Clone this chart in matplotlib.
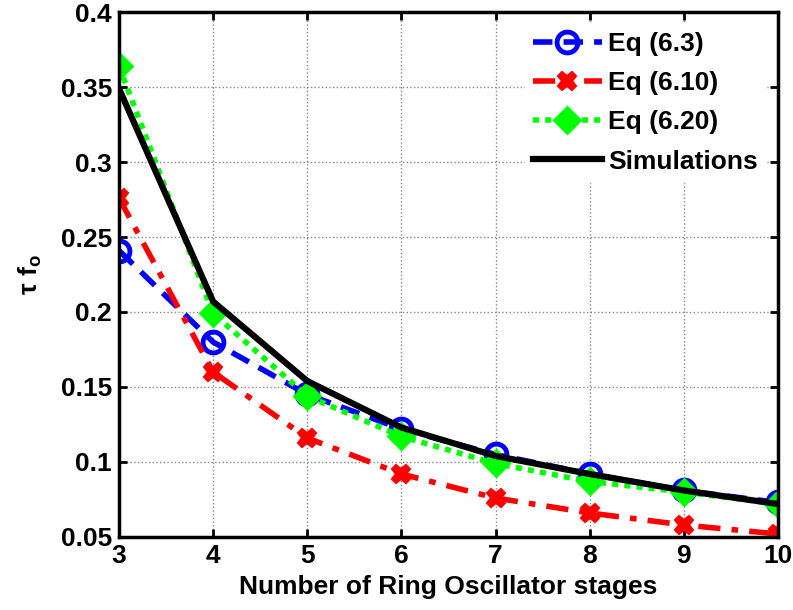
import matplotlib
matplotlib.use("Agg")
import matplotlib.pyplot as plt

plt.rcParams['font.family'] = ['Liberation Sans', 'DejaVu Sans']
plt.rcParams['font.weight'] = 'bold'
plt.rcParams['mathtext.fontset'] = 'custom'
plt.rcParams['mathtext.rm'] = 'Liberation Sans:bold'
plt.rcParams['mathtext.bf'] = 'Liberation Sans:bold'
plt.rcParams['mathtext.default'] = 'rm'

# stage count vs normalised oscillation frequency
stages = [3, 4, 5, 6, 7, 8, 9, 10]
eq_6_3 = [0.241, 0.180, 0.145, 0.122, 0.105, 0.092, 0.081, 0.073]
eq_6_10 = [0.276, 0.160, 0.116, 0.092, 0.076, 0.066, 0.058, 0.052]
eq_6_20 = [0.364, 0.199, 0.144, 0.117, 0.099, 0.087, 0.080, 0.072]
simulations = [0.349, 0.207, 0.154, 0.123, 0.104, 0.092, 0.081, 0.072]

x_ticks = [3, 4, 5, 6, 7, 8, 9, 10]
y_ticks = [0.05, 0.1, 0.15, 0.2, 0.25, 0.3, 0.35, 0.4]
y_tick_labels = ['0.05', '0.1', '0.15', '0.2', '0.25', '0.3', '0.35', '0.4']

FS = 19

fig = plt.figure(figsize=(7.93, 6.10), dpi=100)
ax = fig.add_axes([0.150, 0.1197, 0.831, 0.8606])

ax.plot(stages, eq_6_3, color='blue', linestyle=(0, (3.5, 2.0)), linewidth=4,
        marker='o', markersize=15, markerfacecolor='none', markeredgewidth=3.5,
        label='Eq (6.3)')
ax.plot(stages, eq_6_10, color='red', linestyle=(0, (4.0, 2.0, 1.2, 2.0)), linewidth=4,
        marker='X', markersize=13, markeredgewidth=1.5,
        label='Eq (6.10)')
ax.plot(stages, eq_6_20, color=(0, 1, 0), linestyle=(0, (1.1, 1.1)), linewidth=4,
        marker='D', markersize=13, markeredgewidth=2,
        label='Eq (6.20)')
ax.plot(stages, simulations, color='black', linestyle='-', linewidth=4.5,
        label='Simulations')

ax.set_xlim(3, 10)
ax.set_ylim(0.05, 0.4)
ax.set_xticks(x_ticks)
ax.set_yticks(y_ticks)
ax.set_yticklabels(y_tick_labels)

ax.grid(True, color='#888888', linestyle=':', linewidth=1)
ax.tick_params(direction='in', length=6, width=2, labelsize=FS, pad=5,
               top=True, right=True)
for lbl in ax.get_xticklabels() + ax.get_yticklabels():
    lbl.set_fontweight('bold')
for spine in ax.spines.values():
    spine.set_linewidth(2.5)

ax.set_xlabel('Number of Ring Oscillator stages', fontsize=FS, fontweight='bold', labelpad=5)
ax.set_ylabel(r'τ f$_\mathregular{o}$', fontsize=FS, fontweight='bold', labelpad=12)

leg = ax.legend(loc='upper right', fontsize=FS, frameon=True, fancybox=False,
                handlelength=2.6, handletextpad=0.25, labelspacing=0.58,
                borderaxespad=0.45, borderpad=0.3)
leg.get_frame().set_edgecolor('white')
leg.get_frame().set_facecolor('white')
leg.get_frame().set_alpha(1)
for text in leg.get_texts():
    text.set_fontweight('bold')

fig.savefig('out.png', dpi=100)
